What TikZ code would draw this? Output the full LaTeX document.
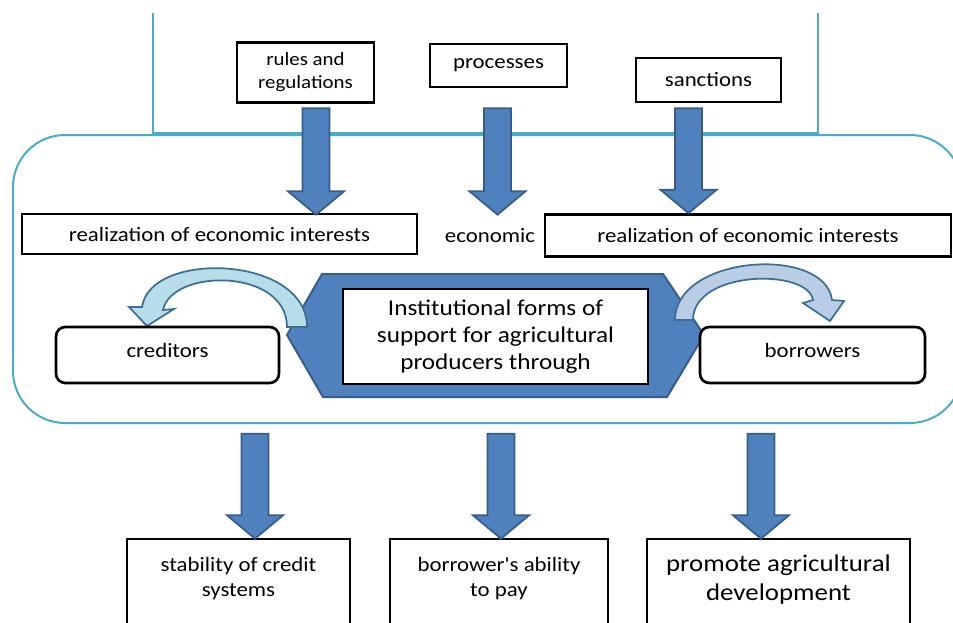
\documentclass[tikz,border=0pt]{standalone}
\usepackage{fontspec}
\setmainfont{Carlito}[FakeStretch=1.12, Ligatures=TeXOff]
\usetikzlibrary{calc}

\definecolor{frameline}{HTML}{4BACC6}
\definecolor{blockfill}{HTML}{4F81BD}
\definecolor{blockedge}{HTML}{385D8A}
\definecolor{leftarc}{HTML}{B7DEE8}
\definecolor{rightarc}{HTML}{B9CDE5}
\definecolor{arcedge}{HTML}{3C6E98}

\newcommand\lblfont{\fontsize{15.3}{18.75}\selectfont}
\newcommand\smallfont{\fontsize{14}{17.25}\selectfont}
\newcommand\hubfont{\fontsize{16.9}{20.25}\selectfont}
\newcommand\bigfont{\fontsize{18}{21.75}\selectfont}

% wide block arrow pointing down: #1 = middle of the shaft top, #2 = tip
\newcommand\blockdown[2]{%
  \draw[blockarrow] let \p1=#1, \p2=#2 in
    (\x1-10.125pt,\y1) -- (\x1+10.125pt,\y1) -- (\x1+10.125pt,\y2+17.5pt)
    -- (\x1+21pt,\y2+17.5pt) -- (\x1,\y2) -- (\x1-21pt,\y2+17.5pt)
    -- (\x1-10.125pt,\y2+17.5pt) -- cycle;}

\begin{document}
\begin{tikzpicture}[x=0.75pt,y=-0.75pt,
  box/.style={draw=black, line width=2pt, fill=white, inner sep=0pt, align=center, font=\lblfont},
  rbox/.style={box, rounded corners=7pt},
  blockarrow/.style={fill=blockfill, draw=blockedge, line width=1.3pt, line join=miter},
  framestroke/.style={draw=frameline, line width=2.2pt},
  roundframe/.style={draw=frameline, line width=1.5pt, rounded corners=39pt},
  arcarrow/.style={draw=arcedge, line width=1.3pt, line join=miter}]

\useasboundingbox (0,0) rectangle (953,622);
\clip (0,0) rectangle (953,622);

% outer frames
\draw[roundframe] (13,135) rectangle (962,423);
\draw[framestroke] (153,13) -- (153,133) -- (818,133) -- (818,13);

% upper row
\node[box, font=\smallfont, minimum width=102.75pt, minimum height=45pt] (rules) at (305.5,72.5) {rules and\\regulations};
\node[box, minimum width=102.75pt, minimum height=32.25pt] (proc) at (498.5,65.5) {processes};
\node[box, minimum width=108.75pt, minimum height=33pt] (sanc) at (708.5,80) {sanctions};

\node[box, minimum width=296.25pt, minimum height=30pt] (realL) at (219.5,234) {realization of economic interests};
\node[box, minimum width=304.5pt, minimum height=31.5pt] (realR) at (748,235.5) {realization of economic interests};
\node[font=\lblfont, inner sep=0pt] (econ) at (490,236) {economic};

\blockdown{($(rules.south)+(10.5,4.5)$)}{($(realL.north)+(96.5,2)$)}
\blockdown{($(proc.south)+(-1,20)$)}{($(proc.south |- realL.north)+(-1,2)$)}
\blockdown{($(sanc.south)+(-20,5)$)}{($(realR.north)+(-59.5,0)$)}

% central hub
\draw[fill=blockfill, draw=blockedge, line width=1.5pt]
  (287,335) -- (322,274) -- (663,274) -- (704,335) -- (667,397) -- (323,397) -- cycle;
\node[box, font=\hubfont, minimum width=228.75pt, minimum height=71.25pt] (inst) at (495.5,336.5)
  {Institutional forms of\\support for agricultural\\producers through};

% curved arrows towards creditors and borrowers
\draw[arcarrow, fill=leftarc]
  (307,327) .. controls (307,255) and (150,250) .. (142,307)
  -- (129,307) -- (147,326) -- (174,309) -- (163,310)
  .. controls (172,268) and (287,268) .. (287,327) -- cycle;
\draw[arcarrow, fill=rightarc]
  (675,320) .. controls (675,255) and (825,245) .. (832,300)
  -- (844,301) -- (830,321) -- (803,303) -- (813,300)
  .. controls (808,268) and (693,270) .. (693,320) -- cycle;

\node[rbox, minimum width=167.25pt, minimum height=42pt,
  label={[font=\lblfont, yshift=3.75pt]center:creditors}] (cred) at (167.5,355) {};
\node[rbox, minimum width=168.75pt, minimum height=42pt,
  label={[font=\lblfont, yshift=3.75pt]center:borrowers}] (borr) at (812.5,355) {};

% outcomes
\node[box, minimum width=167.25pt, minimum height=75.75pt,
  label={[font=\lblfont, align=center, anchor=north, yshift=-11pt]north:stability of credit\\systems}] (out1) at (238.5,589.5) {};
\node[box, minimum width=163.5pt, minimum height=75.75pt,
  label={[font=\lblfont, align=center, anchor=north, yshift=-11pt]north:borrower's ability\\to pay}] (out2) at (499,589.5) {};
\node[box, minimum width=197.25pt, minimum height=75.75pt,
  label={[font=\bigfont, align=center, anchor=north, yshift=-9pt]north:promote agricultural\\development}] (out3) at (778.5,589.5) {};

\blockdown{($(out1.north)+(16.5,-104)$)}{($(out1.north)+(16.5,1)$)}
\blockdown{($(out2.north)+(2,-104)$)}{($(out2.north)+(2,1)$)}
\blockdown{($(out3.north)+(-17.5,-104)$)}{($(out3.north)+(-17.5,1)$)}

\end{tikzpicture}
\end{document}
